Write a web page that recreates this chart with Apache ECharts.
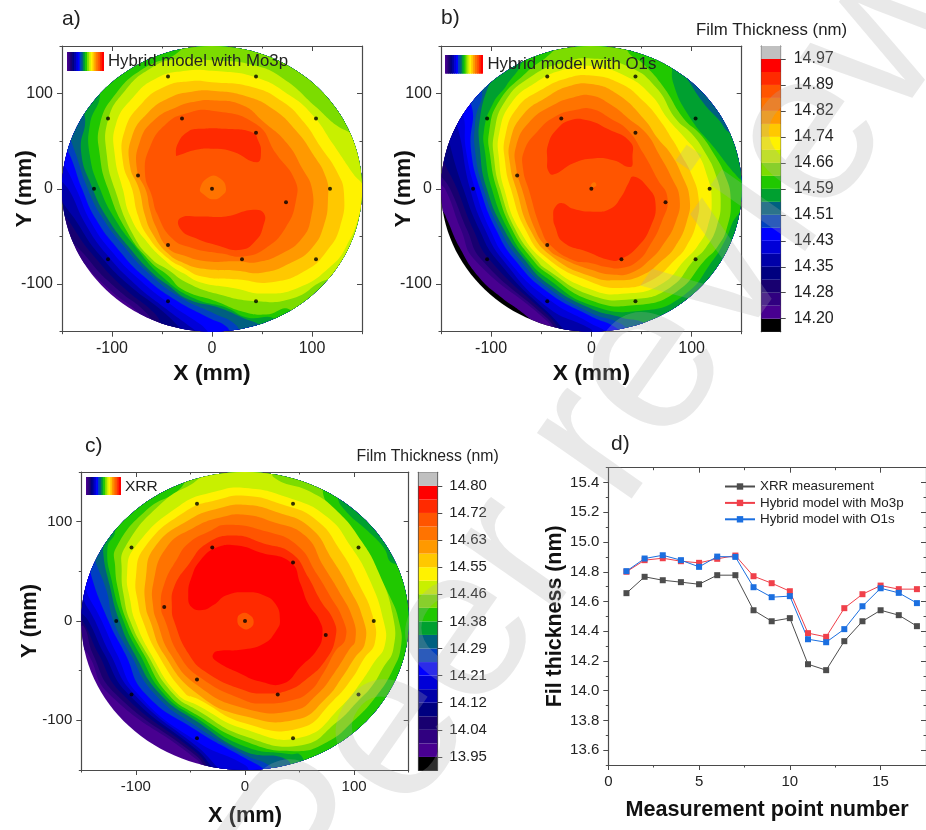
<!DOCTYPE html>
<html><head><meta charset="utf-8">
<style>html,body{margin:0;padding:0;background:#fff}#c{width:926px;height:830px}</style>
<script src="https://cdn.jsdelivr.net/npm/echarts@6/dist/echarts.min.js"></script>
</head><body><div id="c"></div>
<script>
// ---------- colour scale (index 0 black ... 20 red, 21 grey) ----------
const palette=['#000000','#480090','#300080','#180070','#000080','#0000A8','#0000D8','#0000FF','#0040C0','#006080','#00A030','#20C800','#7CDC00','#C8F000','#FFF200','#FFC800','#FF9900','#FF7300','#FF5500','#FF2A00','#FF0000','#C0C0C0'];
const edgesAB=[14.1615,14.2,14.2385,14.277,14.3155,14.354,14.3925,14.431,14.4695,14.508,14.5465,14.585,14.6235,14.662,14.7005,14.739,14.7775,14.816,14.8545,14.893,14.9315,14.97,15.0085];
const edgesC=[13.9075,13.95,13.9925,14.035,14.0775,14.12,14.1625,14.205,14.2475,14.29,14.3325,14.375,14.4175,14.46,14.5025,14.545,14.5875,14.63,14.6725,14.715,14.7575,14.8,14.8425];
const ticksAB=[14.2,14.277,14.354,14.431,14.508,14.585,14.662,14.739,14.816,14.893,14.97];
const ticksC=[13.95,14.035,14.12,14.205,14.29,14.375,14.46,14.545,14.63,14.715,14.8];
// ---------- measurement sites (mm) ----------
const sites=[[44,118],[-44,118],[104,74],[-104,74],[-30,74],[44,59],[-74,14],[-118,0],[0,0],[118,0],[74,-14],[-44,-59],[30,-74],[104,-74],[-104,-74],[-44,-118],[44,-118]];
// ---------- panel d ----------
const pointNo=[1,2,3,4,5,6,7,8,9,10,11,12,13,14,15,16,17];
const xrr=[14.656,14.766,14.743,14.73,14.716,14.777,14.777,14.541,14.467,14.488,14.178,14.138,14.333,14.467,14.541,14.508,14.434];
const mo3p=[14.80,14.878,14.891,14.871,14.86,14.887,14.909,14.77,14.723,14.669,14.387,14.362,14.555,14.649,14.707,14.683,14.683];
const o1s=[14.804,14.889,14.911,14.878,14.833,14.902,14.9,14.696,14.629,14.636,14.346,14.326,14.414,14.568,14.689,14.658,14.589];
// ---------- contour outlines in mm ----------
const square=[[-170,-170],[170,-170],[170,170],[-170,170]];
const rim=[[170,-170],[170,170],[-170,170]];
// panel a
const a2=[[-155,-40],[-128,-78],[-100,-108],[-72,-132],[-60,-155]];
const a3=[[-155,-25],[-122,-76],[-94,-106],[-65,-131],[-50,-155]];
const a4=[[-155,-8],[-138,-42],[-117,-72],[-88,-104],[-58,-130],[-38,-155]];
const a5=[[-155,5],[-132,-40],[-111,-71],[-83,-101],[-50,-128],[-28,-150],[-20,-158]];
const a6=[[-155,20],[-141,-5],[-127,-36],[-106,-68],[-78,-99],[-47,-125],[-20,-146],[-5,-158]];
const a7=[[-155,35],[-146,22],[-135,-2],[-121,-35],[-100,-66],[-73,-95],[-42,-121],[-12,-142],[8,-158]];
const a8=[[-150,55],[-140,30],[-130,0],[-116,-32],[-95,-62],[-68,-92],[-36,-117],[-4,-135],[15,-145],[22,-158]];
const a9=[[-145,65],[-136,36],[-125,2],[-111,-28],[-90,-58],[-62,-90],[-30,-115],[2,-131],[24,-143],[32,-158]];
const a10=[[-135,90],[-127,75],[-131,40],[-120,2],[-105,-30],[-84,-60],[-60,-88],[-44,-101],[-24,-116],[8,-125],[30,-135],[50,-145],[56,-158]];
const a11=[[-120,110],[-112,99],[-122,68],[-122,34],[-112,0],[-98,-30],[-78,-59],[-50,-92],[-18,-115],[15,-125],[35,-135],[64,-137],[75,-160]];
const a12=[[-32,160],[-32,145],[-69,126],[-96,100],[-112,68],[-112,34],[-104,0],[-86,-43],[-62,-76],[-44,-91],[-29,-106],[4,-118],[31,-129],[54,-132],[78,-127],[100,-160]];
const a13=[[-36,136],[0,135],[41,130],[71,116],[104,86],[124,67],[142,55],[165,20],[165,-60],[130,-100],[116,-95],[81,-115],[44,-118],[4,-110],[-26,-98],[-44,-85],[-60,-74],[-79,-48],[-97,-1],[-105,34],[-104,72],[-87,103],[-62,126]];
const a14=[[-26,124],[0,124],[44,117],[78,98],[101,77],[121,47],[141,16],[152,0],[149,-22],[134,-61],[118,-82],[88,-103],[54,-110],[21,-104],[-12,-98],[-28,-89],[-44,-78],[-68,-52],[-82,-28],[-89,-1],[-97,34],[-96,68],[-79,96],[-56,116]];
const a15=[[0,112],[40,107],[70,92],[92,70],[108,45],[125,18],[132,-5],[128,-40],[115,-65],[95,-85],[60,-98],[25,-95],[-10,-92],[-28,-83],[-44,-73],[-64,-50],[-74,-28],[-80,0],[-89,28],[-87,62],[-70,90],[-48,107],[-22,113]];
const a16=[[0,103],[35,97],[62,83],[85,60],[100,38],[114,12],[116,-10],[112,-38],[100,-62],[80,-77],[50,-88],[25,-86],[-8,-84],[-28,-78],[-44,-68],[-60,-46],[-67,-28],[-73,0],[-82,24],[-80,55],[-64,80],[-42,96],[-20,102]];
const a17=[[0,93],[30,88],[52,70],[75,48],[90,22],[100,0],[99,-30],[90,-52],[70,-68],[45,-77],[25,-76],[-6,-76],[-28,-70],[-44,-62],[-56,-40],[-62,-22],[-66,-2],[-75,20],[-72,50],[-58,72],[-35,86],[-15,92]];
const a18=[[0,82],[44,68],[64,37],[83,9],[84,-12],[74,-40],[54,-62],[31,-71],[10,-68],[-20,-62],[-40,-52],[-55,-26],[-60,-8],[-67,16],[-62,44],[-46,68],[-26,79]];
const a19top=[[-36,35],[-34,48],[-24,60],[-12,63],[14,63],[41,59],[46,51],[49,39],[45,28],[21,39],[1,42],[-16,41],[-34,35]];
const a19low=[[-32,-31],[-12,-29],[14,-29],[41,-22],[52,-26],[51,-40],[44,-54],[29,-64],[4,-59],[-16,-52],[-31,-43]];
const a17spot=[[-12,0],[-2,13],[8,11],[14,0],[9,-8],[1,-11],[-7,-7]];
// panel b
const b1=[[-155,-18],[-148,-24],[-143.7,-33],[-131.7,-61],[-112.7,-92],[-91,-113],[-67.7,-131],[-55,-145],[-50,-160]];
const b2=[[-155,10],[-146,0],[-130,-43],[-116,-75],[-44,-139],[-33,-155]];
const b3=[[-155,25],[-141,0],[-124,-43],[-109,-75],[-44,-136],[-26,-155]];
const b4=[[-150,40],[-134,0],[-117.7,-43],[-101,-75],[-44,-132],[-18,-155]];
const b5=[[-142,50],[-127.7,0],[-111.7,-43],[-94,-75],[-44,-129],[-10,-155]];
const b6=[[-135,70],[-121,0],[-106,-43],[-88,-75],[-44,-124],[-1,-147],[6,-155]];
const b7=[[-130,85],[-125,40],[-116,0],[-101,-43],[-83,-75],[-44,-115],[-1,-141],[15,-150],[20,-158]];
const b8=[[-122,95],[-120,40],[-111,0],[-95,-43],[-76,-75],[-44,-108],[-1,-133.5],[25,-146],[35,-158]];
const b9=[[-112,110],[-116,70],[-116,40],[-107.7,0],[-91,-43],[-71,-75],[-44,-103.4],[-1,-130],[30,-142],[45,-158]];
const b10=[[-92,130],[-100,115],[-111,75],[-111,40],[-104.3,0],[-87,-43],[-66,-75],[-44,-99],[-1,-125.4],[30,-135],[56,-143],[62,-160],[170,-160],[170,60],[141,58],[126,74],[112,90],[99,110],[85,135],[80,160],[-92,160]];
const b11=[[-68,160],[81,160],[81,133],[82,110],[99,74],[122,44],[143,16],[151,8],[165,0],[165,-20],[148,-25],[133,-55],[122,-74],[92,-112],[50,-128],[-1,-122],[-44,-94],[-63,-75],[-83,-43],[-99.3,0],[-106,38],[-107,62],[-98,90],[-85,108],[-68,136]];
const b12=[[-30,160],[36,160],[36,145],[52,131],[72,107],[92,74],[108,58],[122,37],[133,15],[139,-10],[135,-42],[125,-62],[114,-74],[85,-108],[45,-122],[-1,-117],[-44,-88.7],[-58,-75],[-79,-43],[-94.3,0],[-101,35],[-102,60],[-92,92],[-65,122],[-38,145]];
const b13=[[0,137],[38,128],[65,106],[84,74],[100,58],[114,37],[124,15],[129,-10],[125,-40],[114,-62],[103,-74],[78,-104],[40,-116],[-1,-111.5],[-44,-85],[-54.3,-75],[-75.7,-43],[-91,0],[-97,32],[-97,58],[-86,92],[-60,118],[-30,132]];
const b14=[[0,129],[35,118],[60,98],[76,74],[92,55],[106,37],[115,15],[120,-10],[116,-40],[106,-60],[94,-74],[70,-100],[35,-110],[-1,-105.5],[-44,-78],[-71.7,-43],[-87,0],[-92,30],[-92,58],[-80,90],[-55,112],[-28,125]];
const b15=[[0,119],[30,110],[52,92],[67,74],[82,50],[89,37],[100,15],[107,-10],[105,-35],[95,-60],[84,-74],[60,-96],[30,-104],[-1,-97.5],[-44,-73],[-65.7,-43],[-80.3,0],[-86,28],[-86,55],[-74,85],[-50,104],[-25,116]];
const b16=[[0,110],[25,100],[52,74],[67,52],[79,37],[90,15],[98,-10],[95,-35],[84,-60],[72,-74],[50,-91],[25,-96],[0,-92],[-38,-72],[-61,-43],[-75,0],[-81,25],[-81,50],[-68,78],[-45,96],[-22,108]];
const b17=[[0,98],[20,88],[37,74],[55,58],[67,37],[80,12],[88,-10],[84,-35],[72,-58],[59,-74],[40,-88],[20,-90],[0,-85],[-31,-72],[-44,-62],[-56,-43],[-69.3,0],[-75,22],[-75,45],[-62,70],[-38,88],[-18,96]];
const b18=[[0,84],[19,74],[36,62],[52,37],[66,10],[76,-10],[70,-35],[58,-60],[46,-76],[30,-83],[15,-82],[0,-78],[-18,-75],[-41,-59],[-50,-43],[-62.7,0],[-68,20],[-67,40],[-54,60],[-36,76],[-15,83]];
const b19top=[[-44,30],[-43,47],[-34,63],[-21,72],[-4,72],[16,63],[39,49],[41,33],[39,23],[22,30],[2,32],[-18,27],[-38,15],[-43,19]];
const b19low=[[42,13],[56,2],[64,-15],[59,-40],[46,-61],[29,-74],[19,-75],[-4,-66],[-28,-56],[-36,-40],[-38,-29],[-36,-19],[-29,-15],[-18,-21],[2,-24],[19,-21],[30,-8],[37,6]];
const b17spot=[[0,5],[3,7],[5,4],[3,2],[0,2]];
// panel c
const c2=[[-155,-20],[-144,-33],[-125,-73],[-44,-139.8],[-34,-155]];
const c3=[[-155,-10],[-148,-5],[-139.5,-33],[-119,-73],[-44,-136.5],[-28,-155]];
const c4=[[-155,5],[-148.7,0],[-134.3,-33],[-112.9,-73],[-44,-133],[-22,-155]];
const c5=[[-155,18],[-143.5,0],[-129,-33],[-107.4,-73],[-44,-129.8],[-16,-155]];
const c6=[[-150,30],[-137.3,0],[-123.6,-33],[-102.2,-73],[-44,-126.4],[-8,-155]];
const c7=[[-148,40],[-131.2,0],[-117.5,-33],[-98.5,-73],[-44,-121.4],[0,-145],[8,-155]];
const c8=[[-142,50],[-125.1,0],[-109.8,-33],[-91.5,-73],[-44,-110.4],[0,-138],[18,-150],[22,-158]];
const c9=[[-137,60],[-127,31],[-120.5,0],[-105.2,-33],[-83.2,-73],[-44,-106.4],[0,-134.8],[23,-146],[30,-158]];
const c10=[[-128,85],[-130,70],[-124,36],[-115,0],[-101.2,-33],[-78.3,-73],[-44,-101.3],[0,-131.4],[39,-140],[45,-158]];
const c11=[[-119,90],[-126,74],[-122,40],[-111.3,0],[-96.7,-33],[-74.6,-73],[-44,-98],[0,-126.4],[40,-134],[51,-135],[60,-155],[170,-160],[170,58],[136,58],[127,74],[112,91],[92,111],[85,125],[85,160],[-119,160]];
const c12=[[-50,160],[72,160],[72,126],[87,104],[100,81],[121,47],[133,24],[141,0],[143,-25],[135,-50],[120,-76],[100,-100],[75,-122],[45,-131],[0,-121],[-44,-94.7],[-71,-73],[-93,-33],[-108.3,0],[-116,30],[-119,55],[-118,74],[-90,112],[-58,135]];
const c13=[[-40,146],[-40,160],[26,160],[26,145],[60,130],[85,110],[107,80],[122,50],[135,8],[136,-28],[126,-48],[116,-66],[104,-80],[84,-102],[52,-125],[0,-116],[-44,-89.6],[-66,-73],[-89.9,-33],[-105.2,0],[-111,25],[-113,50],[-110,74],[-75,120]];
const c14=[[0,134],[40,124],[75,105],[97,75],[114,42],[127,0],[128,-25],[118,-42],[106,-62],[90,-84],[52,-117],[0,-109],[-44,-84.6],[-62.4,-73],[-86.3,-33],[-100.6,0],[-105,20],[-108,48],[-101,74],[-60,116],[-28,130]];
const c15=[[0,126],[32,118],[65,102],[88,70],[104,38],[117,5],[119,-22],[109,-38],[98,-58],[81,-80],[50,-108],[0,-103],[-44,-78],[-54.8,-73],[-80.1,-33],[-93.6,0],[-98,18],[-100,44],[-92,74],[-55,110],[-25,122]];
const c16=[[0,117],[28,110],[60,94],[80,62],[95,34],[108,3],[110,-22],[100,-38],[90,-55],[74,-78],[48,-99],[0,-96],[-44,-73],[-74.6,-33],[-86.9,0],[-91,15],[-91,42],[-83,74],[-51,102],[-22,114]];
const c17=[[0,107],[25,100],[55,86],[72,55],[86,30],[99,2],[101,-20],[96,-28],[82,-52],[66,-74],[45,-90],[0,-88],[-44,-64.5],[-68.5,-33],[-80.8,0],[-84,13],[-84,38],[-72,74],[-47,94],[-20,105]];
const c18=[[-17,97],[20,90],[48,76],[66,47],[77,27],[90,1],[92,-18],[83,-30],[72,-52],[58,-72],[42,-80],[17,-83],[0,-80],[-41,-57],[-60.9,-33],[-73.1,0],[-77,14],[-74,37],[-62,63],[-52,78],[-33,90]];
const c19=[[-10,86],[17,78],[43,68],[58,44],[69,21],[81,1],[83,-16],[74,-39],[57,-58],[39,-70],[17,-73],[0,-70],[-35,-52],[-51.7,-33],[-65,0],[-67,14],[-65,34],[-51,58],[-35,78]];
const c20=[[-52,27],[-49,44],[-41,61],[-26,74],[-7,76],[14,69],[42,59],[51,37],[58,17],[68,1],[71,-13],[66,-29],[51,-46],[35,-63],[14,-61],[-4,-53],[-28,-39],[-29,-33],[-23,-30],[-4,-29],[17,-23],[29,-9],[32,1],[28,17],[17,26],[2,29],[-17,26],[-29,16],[-39,11],[-49,14]];
const c18spot=[[-7,1],[-4,7],[3,7],[8,-1],[3,-8],[-4,-6]];

const open=p=>p.concat(rim);
const shapesA=[[1,square],[2,open(a2)],[3,open(a3)],[4,open(a4)],[5,open(a5)],[6,open(a6)],[7,open(a7)],[8,open(a8)],[9,open(a9)],[10,open(a10)],[11,open(a11)],[12,open(a12)],[13,a13],[14,a14],[15,a15],[16,a16],[17,a17],[18,a18],[19,a19top],[19,a19low],[17,a17spot]];
const shapesB=[[0,square],[1,open(b1)],[2,open(b2)],[3,open(b3)],[4,open(b4)],[5,open(b5)],[6,open(b6)],[7,open(b7)],[8,open(b8)],[9,open(b9)],[10,b10],[11,b11],[12,b12],[13,b13],[14,b14],[15,b15],[16,b16],[17,b17],[18,b18],[19,b19top],[19,b19low],[17,b17spot]];
const shapesC=[[1,square],[2,open(c2)],[3,open(c3)],[4,open(c4)],[5,open(c5)],[6,open(c6)],[7,open(c7)],[8,open(c8)],[9,open(c9)],[10,open(c10)],[11,c11],[12,c12],[13,c13],[14,c14],[15,c15],[16,c16],[17,c17],[18,c18],[19,c19],[20,c20],[18,c18spot]];

const FONT='"Liberation Sans",Arial,sans-serif', INK='#222', AXIS='#4a4a4a';
const swatches=palette.slice(1,21);
const xAxes=[],yAxes=[],grids=[],series=[],titles=[];

function addGrid(box){grids.push(Object.assign({containLabel:false},box));return grids.length-1;}
function valueAxis(g,range,pos,extra){
  return Object.assign({gridIndex:g,type:'value',min:range[0],max:range[1],position:pos,splitLine:{show:false},
    axisLine:{show:true,onZero:false,lineStyle:{color:AXIS,width:1.2}},axisTick:{show:false},axisLabel:{show:false}},extra);
}
function ticks(vals,len,inside){return {show:true,customValues:vals,length:len,inside:!!inside,lineStyle:{color:AXIS,width:1}};}
function addBox(g,cfg){
  const xi=xAxes.length, yi=yAxes.length;
  const lab=(vals,fmt,m)=>({show:true,customValues:vals,margin:m,fontFamily:FONT,fontSize:cfg.tickFont,color:INK,formatter:fmt});
  xAxes.push(valueAxis(g,cfg.x,'bottom',{axisTick:ticks(cfg.xMajor,5),axisLabel:lab(cfg.xMajor,v=>String(v),9),
    name:cfg.xName,nameLocation:'middle',nameGap:cfg.xGap,nameMoveOverlap:false,nameTextStyle:{fontFamily:FONT,fontWeight:'bold',fontSize:cfg.nameFont,color:'#111'}}));
  xAxes.push(valueAxis(g,cfg.x,'bottom',{axisLine:{show:false,onZero:false},axisTick:ticks(cfg.xMinor,2.5)}));
  xAxes.push(valueAxis(g,cfg.x,'top',{axisTick:ticks(cfg.xMajor,5,true)}));
  xAxes.push(valueAxis(g,cfg.x,'top',{axisLine:{show:false,onZero:false},axisTick:ticks(cfg.xMinor,2.5,true)}));
  yAxes.push(valueAxis(g,cfg.y,'left',{axisTick:ticks(cfg.yMajor,5),axisLabel:lab(cfg.yMajor,cfg.yFmt||(v=>String(v)),9),
    name:cfg.yName,nameLocation:'middle',nameGap:cfg.yGap,nameMoveOverlap:false,nameTextStyle:{fontFamily:FONT,fontWeight:'bold',fontSize:cfg.yNameFont||cfg.nameFont,color:'#111'}}));
  yAxes.push(valueAxis(g,cfg.y,'left',{axisLine:{show:false,onZero:false},axisTick:ticks(cfg.yMinor,2.5)}));
  yAxes.push(valueAxis(g,cfg.y,'right',{axisTick:ticks(cfg.yMajor,5,true)}));
  yAxes.push(valueAxis(g,cfg.y,'right',{axisLine:{show:false,onZero:false},axisTick:ticks(cfg.yMinor,2.5,true)}));
  return {xi,yi};
}
const mapRange=[-150,150], mapMajor=[-100,0,100], mapMinor=[-150,-50,50,150];
function addMap(box,shapes,tickFont,nameFont,xGap,yGap){
  const g=addGrid(box);
  const {xi,yi}=addBox(g,{x:mapRange,y:mapRange,xMajor:mapMajor,xMinor:mapMinor,yMajor:mapMajor,yMinor:mapMinor,
    xName:'X (mm)',yName:'Y (mm)',xGap,yGap,tickFont,nameFont});
  series.push({type:'custom',xAxisIndex:xi,yAxisIndex:yi,coordinateSystem:'cartesian2d',clip:false,z:2,silent:true,
    data:shapes.map((s,i)=>[i]),
    renderItem(params,api){
      const s=shapes[api.value(0)], c=api.coord([0,0]), r=api.size([150,150]);
      return {type:'polygon',shape:{points:s[1].map(p=>api.coord(p)),smooth:0.5},style:{fill:palette[s[0]],stroke:null},
        clipPath:{type:'ellipse',shape:{cx:c[0],cy:c[1],rx:r[0],ry:r[1]}}};
    }});
  series.push({type:'scatter',xAxisIndex:xi,yAxisIndex:yi,data:sites,symbol:'circle',symbolSize:4,itemStyle:{color:'#000'},z:3,silent:true});
}
function addScale(box,edges,tickVals,fontSize,margin){
  const g=addGrid(box), range=[edges[0],edges[edges.length-1]];
  const xi=xAxes.length, yi=yAxes.length;
  xAxes.push(valueAxis(g,[0,1],'bottom',{}),valueAxis(g,[0,1],'top',{}));
  yAxes.push(valueAxis(g,range,'right',{axisTick:ticks(tickVals,5),
    axisLabel:{show:true,customValues:tickVals,margin,fontFamily:FONT,fontSize,color:INK,formatter:v=>(v+1e-9).toFixed(2)}}),
    valueAxis(g,range,'left',{}));
  series.push({type:'custom',xAxisIndex:xi,yAxisIndex:yi,coordinateSystem:'cartesian2d',z:1,silent:true,
    data:palette.map((c,i)=>[i]),
    renderItem(params,api){
      const i=api.value(0), a=api.coord([0,edges[i+1]]), b=api.coord([1,edges[i]]);
      return {type:'rect',shape:{x:a[0],y:a[1],width:b[0]-a[0],height:b[1]-a[1]},style:{fill:palette[i],stroke:null}};
    }});
}
function addSwatch(box){
  const g=addGrid(box), xi=xAxes.length, yi=yAxes.length;
  xAxes.push({gridIndex:g,type:'category',show:false,data:swatches.map((c,i)=>i)});
  yAxes.push({gridIndex:g,type:'value',show:false,min:0,max:1});
  series.push({type:'bar',xAxisIndex:xi,yAxisIndex:yi,barWidth:'140%',z:5,silent:true,
    data:swatches.map(c=>({value:1,itemStyle:{color:c}}))});
}
function label(text,left,top,size,extra){titles.push({text,left,top,padding:0,textStyle:Object.assign({fontFamily:FONT,fontWeight:'normal',fontSize:size,color:INK},extra||{})});}

addMap({left:62,top:46,width:300,height:285.7},shapesA,16,22.8,31,26);
addMap({left:441,top:46,width:300.7,height:285.7},shapesB,16,22.8,31,26);
addMap({left:81.3,top:472,width:327.4,height:298},shapesC,15,21.8,35,40);
addScale({left:761.3,top:46,width:19.4,height:285.7},edgesAB,ticksAB,16,13);
addScale({left:418.7,top:472.3,width:18.6,height:298.2},edgesC,ticksC,15,12);
addSwatch({left:67,top:52,width:37,height:19});
addSwatch({left:445,top:55,width:38,height:18.7});
addSwatch({left:86,top:477,width:35,height:18});

const dg=addGrid({left:608.3,top:467.7,width:318,height:297.3});
const d=addBox(dg,{x:[0,17.5],y:[13.5,15.5],xMajor:[0,5,10,15],xMinor:[2.5,7.5,12.5,17.5],
  yMajor:[13.6,13.8,14,14.2,14.4,14.6,14.8,15,15.2,15.4],yMinor:[13.5,13.7,13.9,14.1,14.3,14.5,14.7,14.9,15.1,15.3,15.5],
  yFmt:v=>v.toFixed(1),xName:'Measurement point number',yName:'Fil thickness (nm)',xGap:34,yGap:43,tickFont:15,nameFont:21.6,yNameFont:21.4});
[['XRR measurement',xrr,'#4d4d4d'],['Hybrid model with Mo3p',mo3p,'#f0404a'],['Hybrid model with O1s',o1s,'#1b6fe0']].forEach(([name,vals,color])=>{
  series.push({type:'line',name,xAxisIndex:d.xi,yAxisIndex:d.yi,data:pointNo.map((n,i)=>[n,vals[i]]),symbol:'rect',symbolSize:6,showSymbol:true,
    lineStyle:{color,width:1},itemStyle:{color},z:4,silent:true});
});

label('a)',62,9,21); label('b)',441,8,21); label('c)',85,436,21); label('d)',611,434,21);
label('Film Thickness (nm)',696,22,16.8); label('Film Thickness (nm)',356.5,449,15.8);
label('Hybrid model with Mo3p',108,53,16.8); label('Hybrid model with O1s',487.5,56,16.8); label('XRR',125,479,15.5);

const chart=echarts.init(document.getElementById('c'),null,{renderer:'canvas'});
chart.setOption({animation:false,backgroundColor:'#fff',title:titles,grid:grids,xAxis:xAxes,yAxis:yAxes,series,
  legend:{left:719,top:475,orient:'vertical',itemWidth:30,itemHeight:8,itemGap:3.4,selectedMode:false,
    textStyle:{fontFamily:FONT,fontSize:13.4,color:INK},data:['XRR measurement','Hybrid model with Mo3p','Hybrid model with O1s']},
  graphic:[{type:'text',x:605,y:432,rotation:55*Math.PI/180,z:1000,silent:true,
    style:{text:'Peer review',font:'218px "Liberation Sans"',fill:'rgba(170,170,170,0.26)',textAlign:'center',textVerticalAlign:'middle'}}]});
</script></body></html>
